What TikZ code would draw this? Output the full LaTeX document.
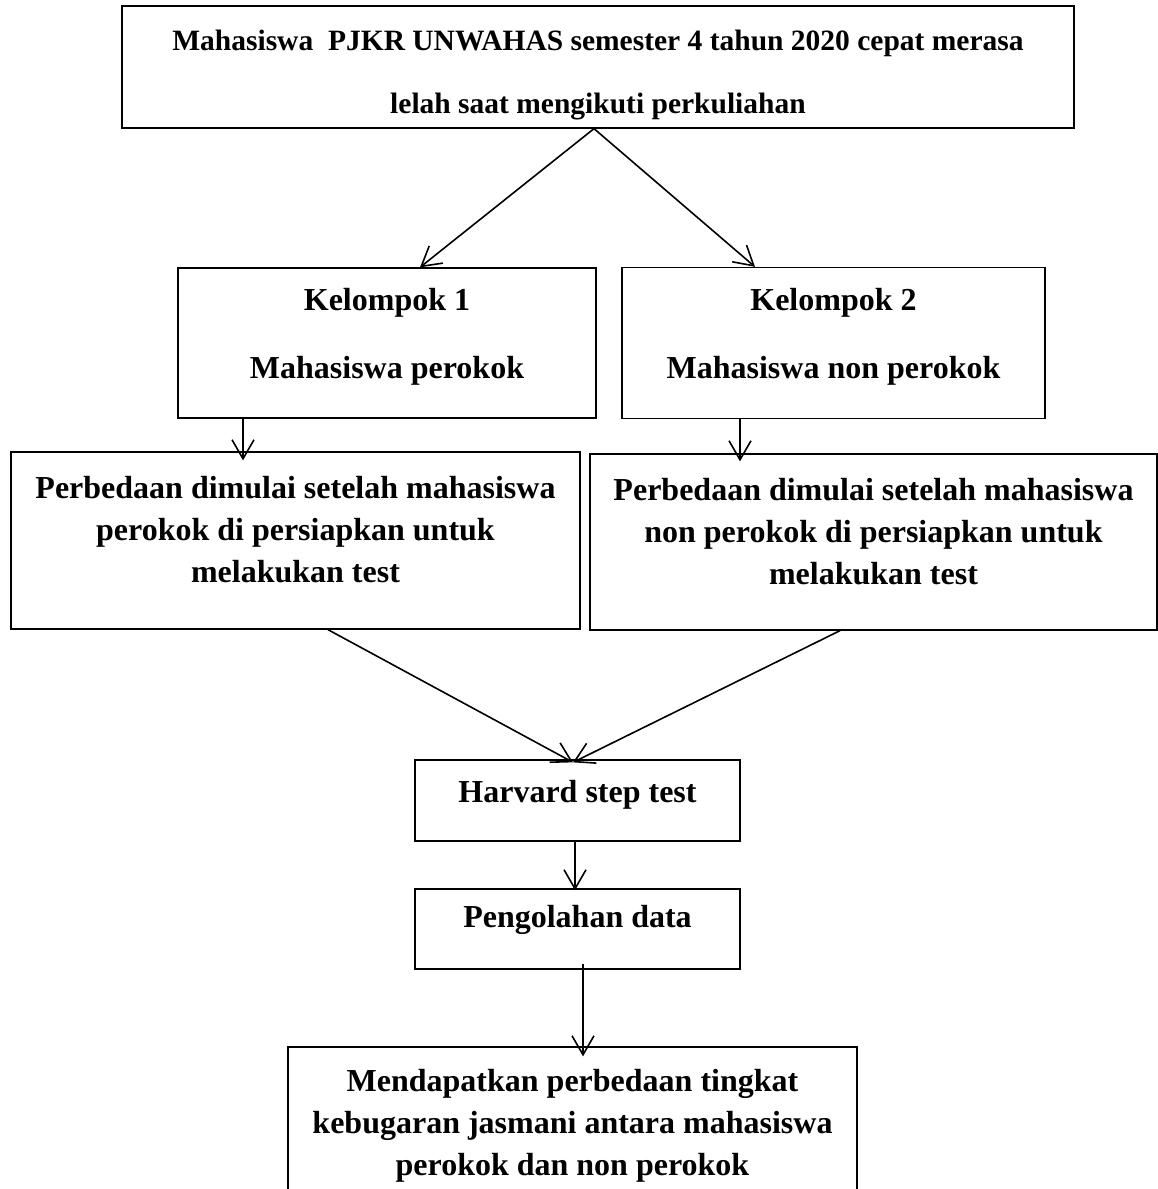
\documentclass[tikz,border=0pt]{standalone}
\usepackage{fontspec}
\setmainfont{Liberation Serif}
\usetikzlibrary{arrows.meta,positioning}

\begin{document}
\begin{tikzpicture}[x=1pt,y=-1pt,on grid,
    box/.style={draw,line width=1.3pt,align=center,inner sep=0pt,
      font=\bfseries\fontsize{32}{42}\selectfont},
    flow/.style={-{Straight Barb[length=19pt,width=22pt,line width=1.6pt]},line width=1.6pt}]
   \clip (0,0) rectangle (1158,1189);
   \node[box,minimum width=952pt,minimum height=122pt,
      font=\bfseries\fontsize{29.5}{42}\selectfont] (top) at (598,67)
      {\rule{0pt}{36pt}Mahasiswa \ PJKR UNWAHAS semester 4 tahun 2020 cepat merasa\\[21pt]lelah saat mengikuti perkuliahan};
   \node[box,minimum width=418pt,minimum height=150pt,text depth=20pt] (grp1) at (387,343)
      {Kelompok 1\\[26pt]Mahasiswa perokok};
   \node[box,minimum width=423pt,minimum height=151pt,text depth=20pt] (grp2) [right=446.5pt of grp1]
      {Kelompok 2\\[26pt]Mahasiswa non perokok};
   \node[box,minimum width=569pt,minimum height=177pt,text depth=22pt] (beda1) at (295.5,540.5)
      {Perbedaan dimulai setelah mahasiswa\\perokok di persiapkan untuk\\melakukan test};
   \node[box,minimum width=567pt,minimum height=176pt,text depth=22pt] (beda2) at (873.5,542)
      {Perbedaan dimulai setelah mahasiswa\\non perokok di persiapkan untuk\\melakukan test};
   \node[box,minimum width=325pt,minimum height=81pt,text depth=18pt] (harvard) at (577.5,800.5)
      {Harvard step test};
   \node[box,minimum width=325pt,minimum height=80pt,text depth=25pt] (olah) [below=128.5pt of harvard]
      {Pengolahan data};
   \node[box,minimum width=569pt,minimum height=158pt] (hasil) at (572.5,1126)
      {Mendapatkan perbedaan tingkat\\kebugaran jasmani antara mahasiswa\\perokok dan non perokok};

   \draw[flow] ([xshift=-4pt]top.south) -- ([xshift=33pt]grp1.north);
   \draw[flow] ([xshift=-4pt]top.south) -- ([xshift=-78.5pt]grp2.north);
   \draw[flow] ([xshift=-144pt]grp1.south) -- ([xshift=-52.5pt,yshift=-9pt]beda1.north);
   \draw[flow] ([xshift=-93.5pt,yshift=1pt]grp2.south) -- ([xshift=-133.5pt,yshift=-8pt]beda2.north);
   \draw[flow] ([xshift=32.5pt]beda1.south) -- ([xshift=-4.5pt,yshift=-3pt]harvard.north);
   \draw[flow] ([xshift=-33.5pt]beda2.south) -- ([xshift=-4.5pt,yshift=-3pt]harvard.north);
   \draw[flow] ([xshift=-2.5pt]harvard.south) -- ([xshift=-2.5pt,yshift=-2pt]olah.north);
   \draw[flow] ([xshift=5.5pt,yshift=6pt]olah.south) -- ([xshift=10.5pt,yshift=-10pt]hasil.north);
\end{tikzpicture}
\end{document}
